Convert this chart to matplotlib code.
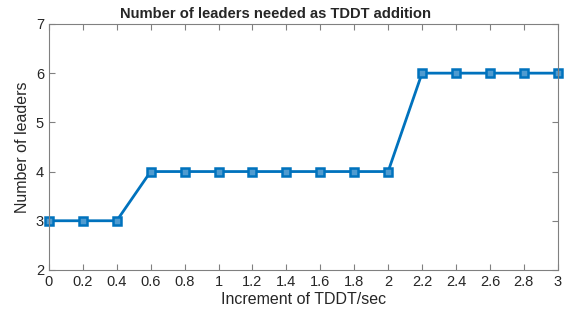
import numpy as np
import matplotlib
matplotlib.use("Agg")
import matplotlib.pyplot as plt

# data
tddt_inc = [0, 0.2, 0.4, 0.6, 0.8, 1.0, 1.2, 1.4, 1.6, 1.8, 2.0, 2.2, 2.4, 2.6, 2.8, 3.0]
n_leaders = [3, 3, 3, 4, 4, 4, 4, 4, 4, 4, 4, 6, 6, 6, 6, 6]
x_ticks = [0, 0.2, 0.4, 0.6, 0.8, 1, 1.2, 1.4, 1.6, 1.8, 2, 2.2, 2.4, 2.6, 2.8, 3]
x_labels = ["0", "0.2", "0.4", "0.6", "0.8", "1", "1.2", "1.4", "1.6", "1.8",
            "2", "2.2", "2.4", "2.6", "2.8", "3"]
y_ticks = [2, 3, 4, 5, 6, 7]

plt.rcParams["font.family"] = ["Liberation Sans", "DejaVu Sans"]

fig = plt.figure(figsize=(5.75, 3.15), dpi=100)
ax = fig.add_axes([0.085, 0.143, 0.885, 0.781])

ax.plot(tddt_inc, n_leaders, color="#0072BD", linewidth=2, marker="s",
        markersize=6, markerfacecolor="#4f9bd0", markeredgewidth=1.8, clip_on=False)

ax.set_xlim(0, 3)
ax.set_ylim(2, 7)
ax.set_xticks(x_ticks)
ax.set_xticklabels(x_labels)
ax.set_yticks(y_ticks)

gray = "#262626"
for s in ax.spines.values():
    s.set_color("#808080")
    s.set_linewidth(0.8)
ax.tick_params(direction="in", top=True, right=True, length=4, width=0.8,
               colors="#808080", labelcolor=gray, labelsize=10.5)

ax.set_xlabel("Increment of TDDT/sec", fontsize=11.5, color=gray, labelpad=2)
ax.set_ylabel("Number of leaders", fontsize=11.5, color=gray, labelpad=4)
ax.set_title("Number of leaders needed as TDDT addition", fontsize=10.6,
             fontweight="bold", color=gray, pad=4, x=0.446)

fig.savefig("out.png", dpi=100)
